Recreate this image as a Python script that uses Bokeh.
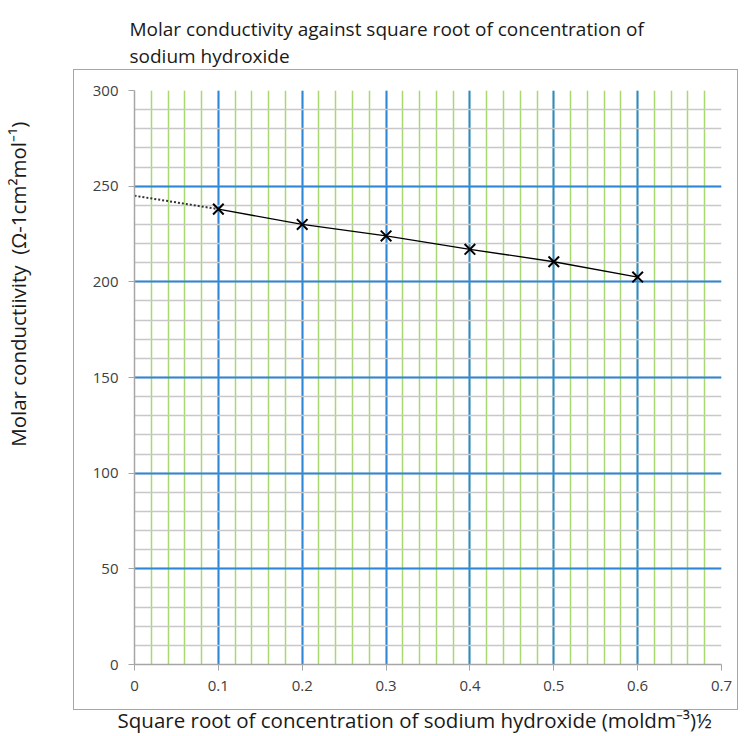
from bokeh.plotting import figure
from bokeh.models import Range1d, FixedTicker, Title, InlineStyleSheet
from bokeh.embed import file_html
from bokeh.resources import INLINE

# data
sqrt_conc = [0.1, 0.2, 0.3, 0.4, 0.5, 0.6]
molar_cond = [238, 230, 224, 217, 210.5, 202.5]
extrap_x = [0.0, 0.1]
extrap_y = [245, 238]
x_ticks = [0, 0.1, 0.2, 0.3, 0.4, 0.5, 0.6, 0.7]
y_ticks = [0, 50, 100, 150, 200, 250, 300]
x_minor = [round(i * 0.02, 2) for i in range(36)]
y_minor = [i * 10 for i in range(31)]

title_lines = ["Molar conductivity against square root of concentration of",
               "sodium hydroxide"]
x_title = "Square root of concentration of sodium hydroxide (moldm\u207b\u00b3)\u00bd"
y_title = "Molar conductiivity \u00a0(\u03a9-1cm\u00b2mol\u207b\u00b9)"

NB = "\u00a0"
W, H = 744, 736
L, R, T, B = 133, 23, 90, 72
FONT = "Open Sans"

box_css = InlineStyleSheet(css="""
:host { position: relative; }
:host::after { content: ''; position: absolute; left: 73px; top: 69px;
  width: 665px; height: 641px; border: 1.5px solid #a6a6a6;
  box-sizing: border-box; pointer-events: none; z-index: 5; }
""")

p = figure(width=W, height=H, output_backend="svg", toolbar_location=None,
           x_range=Range1d(0, 0.7), y_range=Range1d(0, 300),
           min_border_left=L, min_border_right=R, min_border_top=T, min_border_bottom=B,
           stylesheets=[box_css])
p.outline_line_color = None
p.background_fill_color = "white"

p.xaxis.ticker = FixedTicker(ticks=x_ticks, minor_ticks=x_minor)
p.yaxis.ticker = FixedTicker(ticks=y_ticks, minor_ticks=y_minor)
p.xaxis.major_label_overrides = {0: "0"}
for ax in (p.xaxis, p.yaxis):
    ax.axis_line_color = "#a6a6a6"
    ax.axis_line_width = 1.5
    ax.major_tick_line_color = "#a6a6a6"
    ax.major_tick_out = 6
    ax.major_tick_in = 0
    ax.minor_tick_line_color = None
    ax.major_label_text_font = FONT
    ax.major_label_text_font_size = "15px"
    ax.major_label_text_color = "#404040"
    ax.major_label_standoff = 10
    ax.axis_label_text_font = FONT
    ax.axis_label_text_font_size = "20.5px"
    ax.axis_label_text_font_style = "normal"
    ax.axis_label_text_color = "#1a1a1a"

p.xaxis.axis_label = x_title + NB * 5
p.xaxis.axis_label_standoff = 12
p.yaxis.axis_label = NB * 35 + y_title
p.yaxis.axis_label_standoff = 58

p.xgrid.grid_line_color = "#2e86d6"
p.xgrid.grid_line_width = 2
p.xgrid.minor_grid_line_color = "#a8d86e"
p.xgrid.minor_grid_line_width = 1.5
p.ygrid.grid_line_color = "#2e86d6"
p.ygrid.grid_line_width = 2
p.ygrid.minor_grid_line_color = "#c8c8c8"
p.ygrid.minor_grid_line_width = 1.5
p.xgrid.level = "underlay"
p.ygrid.level = "underlay"

p.line(extrap_x, extrap_y, line_color="#333333", line_width=2, line_dash="2 2")
p.line(sqrt_conc, molar_cond, line_color="black", line_width=1.3)
p.scatter(sqrt_conc, molar_cond, marker="x", size=15, line_color="black", line_width=2)

p.add_layout(Title(text="\n".join(title_lines + [NB]), align="left", offset=-5,
                   standoff=-12, vertical_align="bottom", text_line_height=1.04,
                   text_font=FONT, text_font_size="19px", text_font_style="normal",
                   text_color="#1a1a1a"), "above")

open("out.html", "w").write(file_html(p, INLINE))
